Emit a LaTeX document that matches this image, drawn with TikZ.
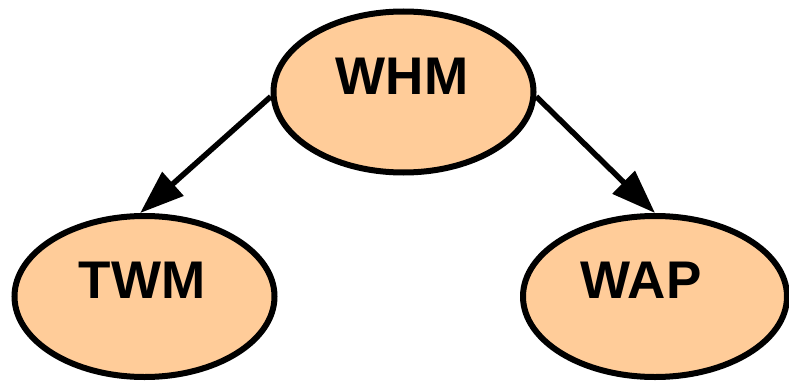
\documentclass[tikz,border=0pt]{standalone}
\usepackage{fontspec}
\setmainfont{Liberation Sans}
\usetikzlibrary{shapes.geometric,arrows.meta}
\definecolor{peach}{HTML}{FFCC99}
\begin{document}
\begin{tikzpicture}[x=1pt,y=1pt,
  ell/.style={ellipse,draw=black,fill=peach,line width=6pt,inner sep=0pt,
    minimum width=260pt,minimum height=161pt},
  lbl/.style={inner sep=0pt,font=\fontsize{53}{60}\selectfont\bfseries},
  conn/.style={line width=5.5pt,-{Triangle[length=44pt,width=31pt]}}]
\useasboundingbox (0,0) rectangle (789,381);
\node[ell] (whm) at (403.5,289) {};
\node[ell] (twm) at (144.5,84.5) {};
\node[ell,minimum width=264pt] (wap) at (655,84.5) {};
\node[lbl] (whmt) at (402,305) {WHM};
\node[lbl] (twmt) at (142,101) {TWM};
\node[lbl] (wapt) at (641,101) {WAP};
\draw[conn] (whm.182) -- (twm.93);
\draw[conn] (whm.358) -- (wap.90);
\end{tikzpicture}
\end{document}
